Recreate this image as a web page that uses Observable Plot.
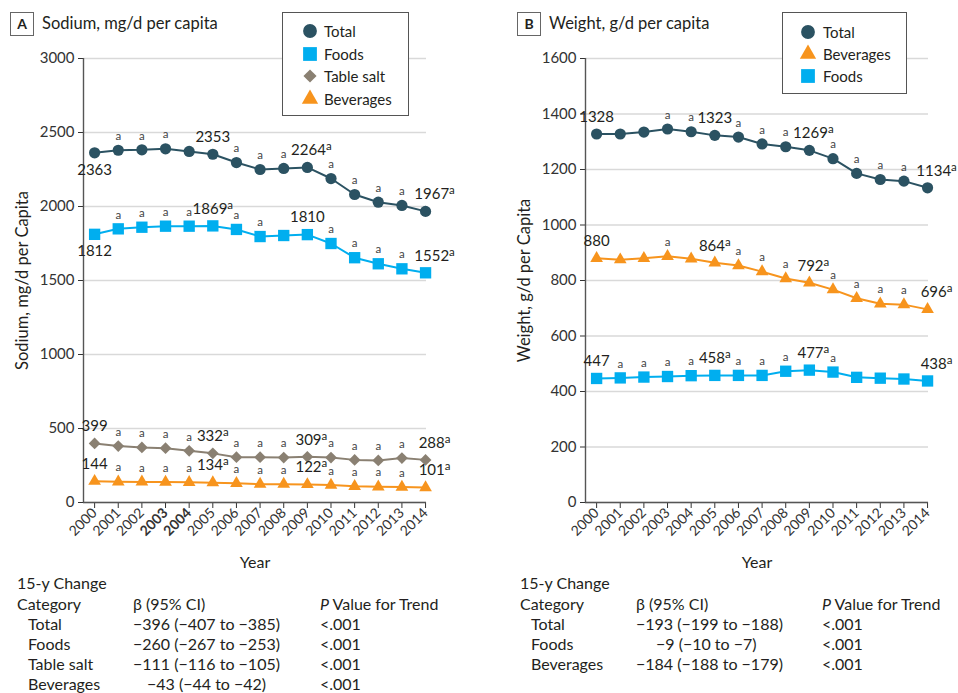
<!DOCTYPE html>
<html><head><meta charset="utf-8">
<script src="https://cdn.jsdelivr.net/npm/d3@7"></script>
<script src="https://cdn.jsdelivr.net/npm/@observablehq/plot@0.6"></script>
<style>
body{margin:0;background:#fff;font-family:Lato,sans-serif;color:#231f20}
#root{position:relative;width:958px;height:693px;overflow:hidden;background:#fff}
.hbox{position:absolute;width:22px;height:22px;border:1px solid #666;font-weight:bold;font-size:14px;text-align:center;line-height:22px}
.title{position:absolute;font-size:16.5px;white-space:nowrap;line-height:22px}
.legend{position:absolute;border:1.5px solid #555;background:#fff;box-sizing:border-box}
.legend .row{position:absolute;font-size:15px;white-space:nowrap;line-height:18px}
.legend svg{position:absolute;overflow:visible}
.cell{position:absolute;font-size:16px;white-space:pre;line-height:20px}
</style></head><body><div id="root"></div><script>
// ---------- data ----------
const years = [2000,2001,2002,2003,2004,2005,2006,2007,2008,2009,2010,2011,2012,2013,2014];

const sodiumTotal = [2363,2380,2383,2390,2372,2353,2297,2250,2257,2264,2189,2081,2029,2007,1967];
const sodiumFoods = [1812,1849,1860,1867,1867,1869,1845,1797,1804,1810,1750,1654,1613,1579,1552];
const sodiumSalt  = [399,381,372,367,349,332,306,306,304,309,304,288,284,300,288];
const sodiumBev   = [144,140,139,138,136,134,130,124,124,122,118,110,106,104,101];

const sodiumTotalLabels = ["2363","a","a","a","","2353","a","a","a","2264ᵃ","a","a","a","a","1967ᵃ"];
const sodiumFoodsLabels = ["1812","a","a","a","a","1869ᵃ","a","a","","1810","a","a","a","a","1552ᵃ"];
const sodiumSaltLabels  = ["399","a","a","a","a","332ᵃ","a","a","a","309ᵃ","a","a","a","a","288ᵃ"];
const sodiumBevLabels   = ["144","a","a","a","a","134ᵃ","a","a","a","122ᵃ","a","a","a","a","101ᵃ"];

const weightTotal = [1328,1328,1335,1346,1336,1323,1317,1292,1282,1269,1239,1186,1164,1158,1134];
const weightBev   = [880,875,880,887,878,864,854,832,807,792,767,736,716,713,696];
const weightFoods = [447,449,452,454,457,458,458,458,473,477,470,451,448,445,438];

const weightTotalLabels = ["1328","","","a","a","1323","a","a","a","1269ᵃ","a","a","a","a","1134ᵃ"];
const weightBevLabels   = ["880","","","a","","864ᵃ","a","a","a","792ᵃ","a","a","a","a","696ᵃ"];
const weightFoodsLabels = ["447","a","a","a","a","458ᵃ","a","a","a","477ᵃ","a","","","","438ᵃ"];

const sodiumTicks = [0,500,1000,1500,2000,2500,3000];
const weightTicks = [0,200,400,600,800,1000,1200,1400,1600];

const tableTitle = "15-y Change";
const tableHead = ["Category","β (95% CI)","Value for Trend"];
const tableARows = [
  ["Total","−396 (−407 to −385)","<.001"],
  ["Foods","−260 (−267 to −253)","<.001"],
  ["Table salt","−111 (−116 to −105)","<.001"],
  ["Beverages","−43 (−44 to −42)","<.001"]
];
const tableBRows = [
  ["Total","−193 (−199 to −188)","<.001"],
  ["Foods","−9 (−10 to −7)","<.001"],
  ["Beverages","−184 (−188 to −179)","<.001"]
];

// ---------- styles ----------
const colors  = {"Total":"#2b5262","Foods":"#00aeef","Table salt":"#8a8072","Beverages":"#f7941d"};
const symbols = {"Total":"circle","Foods":"square","Table salt":"diamond2","Beverages":"triangle"};
const radius  = {"Total":5.6,"Foods":6.4,"Table salt":5.3,"Beverages":4.7};
const legendSize = {"Total":150,"Foods":190,"Table salt":110,"Beverages":115};
const d3sym = {"circle":d3.symbolCircle,"square":d3.symbolSquare,"diamond2":d3.symbolDiamond2,"triangle":d3.symbolTriangle};
// horizontal nudge of superscripted value labels, by year
const supShift = {2009: 4, 2014: 9};

const root = document.getElementById("root");
const xDomain = [1999.53, 2014.04];

function makePanel(cfg) {
  const rows = [];
  cfg.series.forEach(s => s.values.forEach((v, i) => rows.push({series: s.name, year: years[i], value: v, label: s.labels[i], i})));
  const isBelow = r => cfg.below.includes(r.series) && r.i === 0;
  const isSup = r => r.label.endsWith("ᵃ");
  const numAbove = r => r.label && r.label !== "a" && !isBelow(r);
  const shiftOf = r => (isSup(r) && supShift[r.year]) || 0;
  const marks = [
    Plot.gridY(cfg.ticks, {stroke: "#d9d9d9", strokeOpacity: 1, strokeWidth: 1.3}),
    Plot.axisY(cfg.ticks, {tickSize: 5, tickPadding: 4, fontSize: 15, tickFormat: d => String(d), label: null, color: "#333"}),
    Plot.axisX(years, {tickRotate: -45, tickSize: 6, tickPadding: 2, fontSize: 14, tickFormat: d => String(d), label: null, color: "#333"}),
    Plot.ruleX([xDomain[0]], {stroke: "#555", strokeWidth: 1.4}),
    Plot.ruleY([0], {stroke: "#555", strokeWidth: 1.4}),
    Plot.text([cfg.yLabel], {frameAnchor: "left", textAnchor: "middle", lineAnchor: "middle", dx: -61, rotate: -90, fontSize: 16.5, fill: "#231f20", text: d => d}),
    Plot.text(["Year"], {frameAnchor: "bottom", textAnchor: "middle", lineAnchor: "middle", dy: 60, fontSize: 16, fill: "#231f20", text: d => d})
  ];
  for (const s of cfg.series) {
    const sub = rows.filter(r => r.series === s.name);
    marks.push(Plot.line(sub, {x: "year", y: "value", stroke: colors[s.name], strokeWidth: 2}));
  }
  for (const s of cfg.series) {
    const sub = rows.filter(r => r.series === s.name);
    marks.push(Plot.dot(sub, {x: "year", y: "value", symbol: symbols[s.name], fill: colors[s.name], r: radius[s.name], stroke: "none"}));
  }
  marks.push(Plot.text(rows.filter(r => r.label === "a"), {x: "year", y: "value", text: "label", dy: -14, fontSize: 11.5, fill: "#444"}));
  for (const dx of [0, 4, 9]) {
    marks.push(Plot.text(rows.filter(r => numAbove(r) && shiftOf(r) === dx), {x: "year", y: "value", text: "label", dx, dy: -17, fontSize: 15, fill: "#231f20"}));
  }
  marks.push(Plot.text(rows.filter(r => r.label && r.label !== "a" && isBelow(r)), {x: "year", y: "value", text: "label", dy: 17, fontSize: 15, fill: "#231f20"}));

  const svg = Plot.plot({
    width: 470, height: 540,
    marginLeft: 83, marginRight: 44, marginTop: 18, marginBottom: 78,
    x: {domain: xDomain},
    y: {domain: cfg.domain},
    style: {fontFamily: "Lato, sans-serif", background: "transparent", overflow: "visible"},
    marks
  });
  // superscript "a"
  for (const t of svg.querySelectorAll("text")) {
    const s = t.textContent;
    if (s.endsWith("ᵃ")) {
      t.textContent = s.slice(0, -1);
      const ts = document.createElementNS("http://www.w3.org/2000/svg", "tspan");
      ts.setAttribute("dy", "-5");
      ts.setAttribute("font-size", "11.5");
      ts.textContent = "a";
      t.appendChild(ts);
    }
    if (cfg.boldTicks && cfg.boldTicks.includes(s)) t.setAttribute("font-weight", "bold");
  }
  svg.style.position = "absolute";
  svg.style.left = cfg.left + "px";
  svg.style.top = "40px";
  root.appendChild(svg);

  // header
  const hb = document.createElement("div");
  hb.className = "hbox"; hb.textContent = cfg.letter;
  hb.style.left = cfg.hdrX + "px"; hb.style.top = "12px";
  root.appendChild(hb);
  const tt = document.createElement("div");
  tt.className = "title"; tt.textContent = cfg.title;
  tt.style.left = cfg.titleX + "px"; tt.style.top = "12px";
  root.appendChild(tt);

  // legend
  const lg = document.createElement("div");
  lg.className = "legend";
  Object.assign(lg.style, {left: cfg.legend.x + "px", top: "12px", width: cfg.legend.w + "px", height: cfg.legend.h + "px"});
  cfg.legend.order.forEach((name, k) => {
    const cy = cfg.legend.y0 + k * cfg.legend.dy;
    const sv = document.createElementNS("http://www.w3.org/2000/svg", "svg");
    sv.setAttribute("width", 20); sv.setAttribute("height", 20);
    sv.style.left = (cfg.legend.sx - 10) + "px"; sv.style.top = (cy - 10) + "px";
    const p = document.createElementNS("http://www.w3.org/2000/svg", "path");
    p.setAttribute("d", d3.symbol(d3sym[symbols[name]], legendSize[name])());
    p.setAttribute("transform", "translate(10,10)");
    p.setAttribute("fill", colors[name]);
    sv.appendChild(p);
    lg.appendChild(sv);
    const tx = document.createElement("div");
    tx.className = "row"; tx.textContent = name;
    tx.style.left = cfg.legend.tx + "px"; tx.style.top = (cy - 9) + "px";
    lg.appendChild(tx);
  });
  root.appendChild(lg);

  // table
  const addCell = (x, y, html) => {
    const c = document.createElement("div");
    c.className = "cell"; c.innerHTML = html;
    c.style.left = x + "px"; c.style.top = (y - 10) + "px";
    root.appendChild(c);
  };
  const T = cfg.table;
  addCell(T.x, 583, tableTitle);
  addCell(T.x, 604, tableHead[0]);
  addCell(T.c2, 604, tableHead[1]);
  addCell(T.c3, 604, "<i>P</i> " + tableHead[2]);
  T.rows.forEach((r, k) => {
    const y = 624 + k * 20;
    addCell(T.x + 11, y, r[0]);
    addCell(T.c2 + (T.pad[k] || 0), y, r[1]);
    addCell(T.c3, y, r[2].replace("<", "&lt;"));
  });
}

makePanel({
  left: 0, domain: [0, 3000], ticks: sodiumTicks,
  yLabel: "Sodium, mg/d per Capita",
  series: [
    {name: "Total", values: sodiumTotal, labels: sodiumTotalLabels},
    {name: "Foods", values: sodiumFoods, labels: sodiumFoodsLabels},
    {name: "Table salt", values: sodiumSalt, labels: sodiumSaltLabels},
    {name: "Beverages", values: sodiumBev, labels: sodiumBevLabels}
  ],
  below: ["Total", "Foods"],
  boldTicks: ["2003", "2004"],
  letter: "A", hdrX: 10, title: "Sodium, mg/d per capita", titleX: 42,
  legend: {x: 282, w: 127, h: 104, order: ["Total","Foods","Table salt","Beverages"], y0: 18, dy: 22.7, sx: 27, tx: 41},
  table: {x: 17, c2: 133, c3: 320, rows: tableARows, pad: [0, 0, 0, 14]}
});

makePanel({
  left: 502, domain: [0, 1600], ticks: weightTicks,
  yLabel: "Weight, g/d per Capita",
  series: [
    {name: "Foods", values: weightFoods, labels: weightFoodsLabels},
    {name: "Beverages", values: weightBev, labels: weightBevLabels},
    {name: "Total", values: weightTotal, labels: weightTotalLabels}
  ],
  below: [],
  letter: "B", hdrX: 517, title: "Weight, g/d per capita", titleX: 549,
  legend: {x: 782, w: 125, h: 82, order: ["Total","Beverages","Foods"], y0: 18.5, dy: 22.3, sx: 25, tx: 40},
  table: {x: 520, c2: 636, c3: 822, rows: tableBRows, pad: [0, 20, 0]}
});
</script></body></html>
